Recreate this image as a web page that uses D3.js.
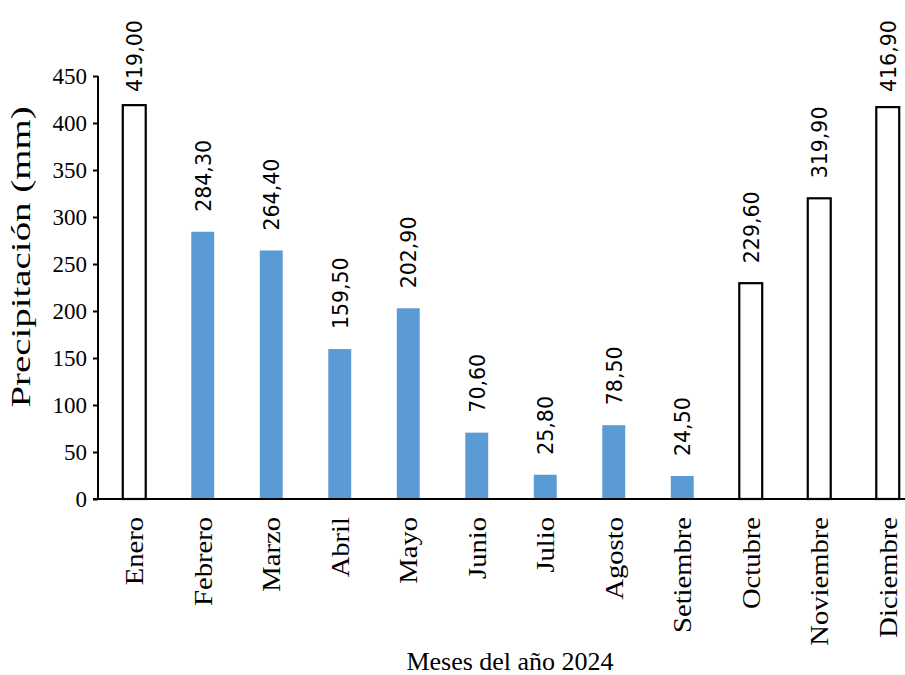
<!DOCTYPE html>
<html><head><meta charset="utf-8">
<script src="https://cdn.jsdelivr.net/npm/d3@7"></script>
<style>body{margin:0;background:#fff}</style>
</head><body>
<svg id="c" width="905" height="675"></svg>
<script>
const months = ["Enero","Febrero","Marzo","Abril","Mayo","Junio","Julio","Agosto","Setiembre","Octubre","Noviembre","Diciembre"];
const precip = [419.0,284.3,264.4,159.5,202.9,70.6,25.8,78.5,24.5,229.6,319.9,416.9];
const wetSeason = ["Enero","Octubre","Noviembre","Diciembre"];
const yTicks = [0,50,100,150,200,250,300,350,400,450];

const svg = d3.select("#c");
const x0 = 100, bandW = 68.5;
const x = d3.scaleBand().domain(months).range([x0, x0 + bandW*12]).paddingInner(0.665).paddingOuter(0.3325);
const y = d3.scaleLinear().domain([0,450]).range([499,76]);

// y axis
const ya = svg.append("g").attr("transform","translate(98,0)")
  .call(d3.axisLeft(y).tickValues(yTicks).tickSize(5).tickPadding(6).tickFormat(d3.format("d")));
ya.select(".domain").attr("stroke","#000").attr("stroke-width",2).attr("d","M0,76V499");
ya.selectAll(".tick line").attr("stroke","#000").attr("stroke-width",2);
ya.selectAll(".tick text").attr("font-family","Liberation Serif").attr("font-size",23).attr("fill","#000");

// bars
svg.selectAll("rect.bar").data(months).enter().append("rect")
  .attr("x", d => x(d)).attr("width", x.bandwidth())
  .attr("y", (d,i) => y(precip[i])).attr("height", (d,i) => y(0)-y(precip[i]))
  .attr("fill", d => wetSeason.includes(d) ? "#fff" : "#5b9bd5")
  .attr("stroke", d => wetSeason.includes(d) ? "#000" : "none")
  .attr("stroke-width", 2.2);

// x axis line
svg.append("line").attr("x1",93).attr("x2",905).attr("y1",499).attr("y2",499).attr("stroke","#000").attr("stroke-width",2.2);

// value labels
const fmt = v => v.toFixed(2).replace(".",",");
svg.selectAll("text.val").data(months).enter().append("text")
  .attr("transform",(d,i)=>`translate(${x(d)+x.bandwidth()/2+8},${Math.max(y(precip[i])-20, 92)}) rotate(-90)`)
  .attr("font-family","DejaVu Sans").attr("font-size",20.5).attr("fill","#000")
  .text((d,i)=>fmt(precip[i]));

// month labels
svg.selectAll("text.m").data(months).enter().append("text")
  .attr("transform",d=>`translate(${x(d)+x.bandwidth()/2+9},517) scale(1,1.1) rotate(-90)`)
  .attr("text-anchor","end")
  .attr("font-family","Liberation Serif").attr("font-size",26).attr("fill","#000")
  .text(d=>d);

// titles
svg.append("text").attr("transform","translate(30,257) scale(1,1.44) rotate(-90)").attr("text-anchor","middle")
  .attr("font-family","Liberation Serif").attr("font-size",27).text("Precipitación (mm)");
svg.append("text").attr("x",510).attr("y",670).attr("text-anchor","middle")
  .attr("font-family","Liberation Serif").attr("font-size",26).text("Meses del año 2024");
</script>
</body></html>
